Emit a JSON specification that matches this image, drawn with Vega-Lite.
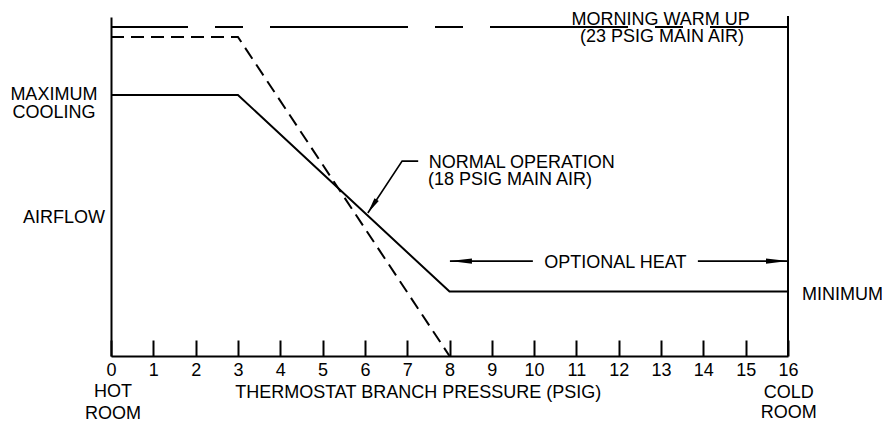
{
  "$schema": "https://vega.github.io/schema/vega-lite/v6.json",
  "width": 677,
  "height": 339,
  "autosize": {"type": "none"},
  "padding": {"left": 111, "top": 17, "right": 94, "bottom": 66},
  "background": "white",
  "config": {
    "view": {"stroke": null},
    "font": "Liberation Sans",
    "text": {"font": "Liberation Sans", "fontSize": 18, "color": "black"}
  },
  "datasets": {
    "curves": [
      {"series": "normal", "pressure": 0, "airflow": 77},
      {"series": "normal", "pressure": 3, "airflow": 77},
      {"series": "normal", "pressure": 8, "airflow": 19},
      {"series": "normal", "pressure": 16, "airflow": 19},
      {"series": "max", "pressure": 0, "airflow": 94.1},
      {"series": "max", "pressure": 3, "airflow": 94.1},
      {"series": "max", "pressure": 8, "airflow": 0},
      {"series": "warm", "pressure": 0, "airflow": 97.05},
      {"series": "warm", "pressure": 16, "airflow": 97.05}
    ],
    "border": [
      {"pressure": 16, "airflow": 0},
      {"pressure": 16, "airflow": 100.3}
    ],
    "leader": [
      {"pressure": 6.07, "airflow": 42.2},
      {"pressure": 6.88, "airflow": 57.5},
      {"pressure": 7.26, "airflow": 57.5}
    ],
    "heatline": [
      {"seg": "a", "pressure": 8.01, "airflow": 28},
      {"seg": "a", "pressure": 9.97, "airflow": 28},
      {"seg": "b", "pressure": 13.87, "airflow": 28},
      {"seg": "b", "pressure": 16, "airflow": 28}
    ],
    "arrowLeft": [{"pressure": 8.01, "airflow": 28}],
    "arrowRight": [{"pressure": 16, "airflow": 28}],
    "arrowNormal": [{"pressure": 6.07, "airflow": 42.2}],
    "labelsCenter": [
      {"text": "MORNING WARM UP", "pressure": 12.99, "airflow": 97.6},
      {"text": "(23 PSIG MAIN AIR)", "pressure": 13.02, "airflow": 92.5},
      {"text": "MAXIMUM", "pressure": -1.35, "airflow": 75.5},
      {"text": "COOLING", "pressure": -1.35, "airflow": 70.2},
      {"text": "AIRFLOW", "pressure": -1.11, "airflow": 39.2},
      {"text": "OPTIONAL HEAT", "pressure": 11.92, "airflow": 26.0},
      {"text": "HOT", "pressure": 0.05, "airflow": -12.1},
      {"text": "ROOM", "pressure": 0.05, "airflow": -18.6},
      {"text": "THERMOSTAT BRANCH PRESSURE (PSIG)", "pressure": 7.26, "airflow": -12.4},
      {"text": "COLD", "pressure": 16.02, "airflow": -12.4},
      {"text": "ROOM", "pressure": 16.02, "airflow": -18.3}
    ],
    "labelsLeft": [
      {"text": "MINIMUM", "pressure": 16.33, "airflow": 16.5},
      {"text": "NORMAL OPERATION", "pressure": 7.51, "airflow": 55.5},
      {"text": "(18 PSIG MAIN AIR)", "pressure": 7.49, "airflow": 50.4}
    ]
  },
  "encoding": {
    "x": {
      "field": "pressure",
      "type": "quantitative",
      "scale": {"domain": [0, 16], "nice": false, "zero": false},
      "axis": {
        "values": [0,1,2,3,4,5,6,7,8,9,10,11,12,13,14,15,16],
        "title": null,
        "grid": false,
        "domainColor": "black",
        "domainWidth": 2,
        "tickColor": "black",
        "tickWidth": 2,
        "tickSize": -16,
        "labelPadding": 21,
        "labelFont": "Liberation Sans",
        "labelFontSize": 18,
        "labelColor": "black",
        "labelFlush": false
      }
    },
    "y": {
      "field": "airflow",
      "type": "quantitative",
      "scale": {"domain": [0, 100], "nice": false, "zero": false},
      "axis": {
        "title": null,
        "grid": false,
        "ticks": false,
        "labels": false,
        "domainColor": "black",
        "domainWidth": 2
      }
    }
  },
  "layer": [
    {
      "data": {"name": "curves"},
      "transform": [{"filter": "datum.series === 'normal'"}],
      "mark": {"type": "line", "color": "black", "strokeWidth": 2},
      "encoding": {}
    },
    {
      "data": {"name": "curves"},
      "transform": [{"filter": "datum.series === 'max'"}],
      "mark": {"type": "line", "color": "black", "strokeWidth": 2, "strokeDash": [13, 7]},
      "encoding": {}
    },
    {
      "data": {"name": "curves"},
      "transform": [{"filter": "datum.series === 'warm'"}],
      "mark": {"type": "line", "color": "black", "strokeWidth": 2, "strokeDash": [138, 27, 28, 27], "strokeDashOffset": 61},
      "encoding": {}
    },
    {
      "data": {"name": "border"},
      "mark": {"type": "line", "color": "black", "strokeWidth": 2},
      "encoding": {}
    },
    {
      "data": {"name": "leader"},
      "mark": {"type": "line", "color": "black", "strokeWidth": 1.6},
      "encoding": {}
    },
    {
      "data": {"name": "heatline"},
      "mark": {"type": "line", "color": "black", "strokeWidth": 1.6},
      "encoding": {"detail": {"field": "seg"}}
    },
    {
      "data": {"name": "arrowLeft"},
      "mark": {"type": "point", "shape": "M0,0L2,-0.24L2,0.24Z", "size": 484, "filled": true, "color": "black", "opacity": 1, "strokeWidth": 0, "angle": 0},
      "encoding": {}
    },
    {
      "data": {"name": "arrowRight"},
      "mark": {"type": "point", "shape": "M0,0L2,-0.24L2,0.24Z", "size": 484, "filled": true, "color": "black", "opacity": 1, "strokeWidth": 0, "angle": 180},
      "encoding": {}
    },
    {
      "data": {"name": "arrowNormal"},
      "mark": {"type": "point", "shape": "M0,0L2,-0.32L2,0.32Z", "size": 256, "filled": true, "color": "black", "opacity": 1, "strokeWidth": 0, "angle": 303.2},
      "encoding": {}
    },
    {
      "data": {"name": "labelsCenter"},
      "mark": {"type": "text", "align": "center", "baseline": "alphabetic", "fontSize": 18, "font": "Liberation Sans", "color": "black"},
      "encoding": {"text": {"field": "text"}}
    },
    {
      "data": {"name": "labelsLeft"},
      "mark": {"type": "text", "align": "left", "baseline": "alphabetic", "fontSize": 18, "font": "Liberation Sans", "color": "black"},
      "encoding": {"text": {"field": "text"}}
    }
  ]
}
